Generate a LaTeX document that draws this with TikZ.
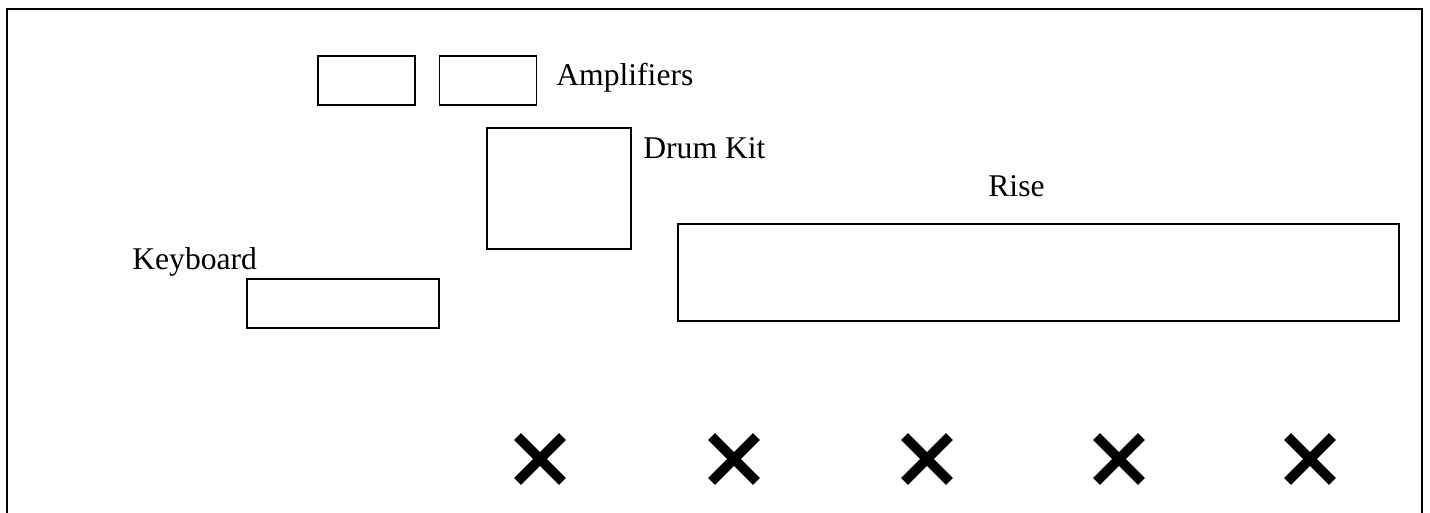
\documentclass[tikz,border=0pt]{standalone}
\usepackage{fontspec}
\setmainfont{Liberation Serif}
\usetikzlibrary{positioning, shapes.misc}

\begin{document}
\begin{tikzpicture}[x=0.02cm, y=-0.02cm,
    box/.style={draw, line width=0.7pt, inner sep=0pt},
    lbl/.style={anchor=base west, inner sep=0pt, font=\fontsize{18}{21}\selectfont},
    spot/.style={cross out, draw, line width=5.6pt, minimum size=0.7cm, inner sep=0pt}]
     \useasboundingbox (0,0) rectangle (1430,512);
     % stage outline, open at the bottom
     \draw[line width=1.3pt] (7,530) -- (7,9) -- (1422,9) -- (1422,530);

     \node[box, minimum width=1.94cm, minimum height=0.98cm] (amp1) at (366.5,80.5) {};
     \node[box, minimum width=1.94cm, minimum height=0.98cm, right=0.46cm of amp1] (amp2) {};
     \node[lbl] (ampl) at (556,85) {Amplifiers};

     \node[box, minimum width=2.88cm, minimum height=2.42cm] (drums) at (559,188.5) {};
     \node[lbl] (druml) at (643,158) {Drum Kit};

     \node[box, minimum width=3.84cm, minimum height=0.98cm] (keys) at (343,303.5) {};
     \node[lbl] (keysl) at (132,269) {Keyboard};

     \node[box, minimum width=14.42cm, minimum height=1.94cm] (rise) at (1038.5,272.5) {};
     \node[lbl] (risel) at (988,196) {Rise};

     % positions marked on the floor
     \foreach \x [count=\i] in {540,734,927,1119,1310}
       \node[spot] (x\i) at (\x,459) {};
\end{tikzpicture}
\end{document}
